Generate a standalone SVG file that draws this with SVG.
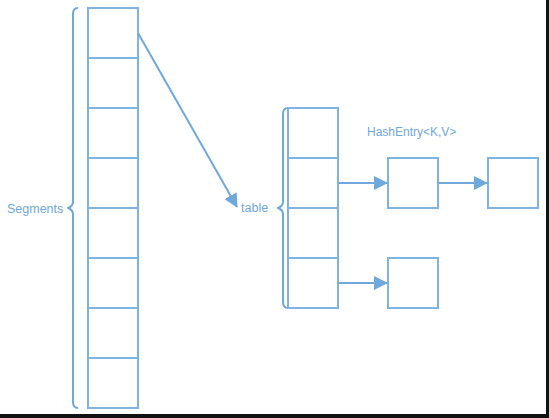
<svg xmlns="http://www.w3.org/2000/svg" width="549" height="418" viewBox="0 0 549 418">
<style>
.cell{fill:#fff;stroke:#7fb3e2;stroke-width:2}
.brace{fill:none;stroke:#6fa8dc;stroke-width:2;stroke-linejoin:round}
.conn{fill:none;stroke:#6fa8dc;stroke-width:2}
.lbl{font-family:"Liberation Sans",Arial,sans-serif;fill:#6fa8dc}
</style>
<defs>
<marker id="ah" markerWidth="8" markerHeight="8" refX="7" refY="4" orient="auto" markerUnits="userSpaceOnUse" viewBox="0 0 8 8">
<path d="M0,0 L8,4 L0,8 z" fill="#6fa8dc"/>
</marker>
<marker id="ah2" markerWidth="14" markerHeight="14" refX="13" refY="7" orient="auto" markerUnits="userSpaceOnUse" viewBox="0 0 14 14">
<path d="M0,0 L14,7 L0,14 z" fill="#6fa8dc"/>
</marker>
</defs>
<rect x="0" y="0" width="549" height="418" fill="#fff"/>
<rect x="546" y="0" width="3" height="418" fill="#111"/>
<rect x="0" y="414" width="549" height="4" fill="#111"/>

<g id="segments">
<path class="brace" d="M78,8 Q73,8 73,14 L73,202 Q73,206 68,208 Q73,210 73,214 L73,402 Q73,408 78,408"/>
<text class="lbl" x="7" y="213" font-size="12.5">Segments</text>
<rect class="cell" x="88" y="8" width="50" height="50"/>
<rect class="cell" x="88" y="58" width="50" height="50"/>
<rect class="cell" x="88" y="108" width="50" height="50"/>
<rect class="cell" x="88" y="158" width="50" height="50"/>
<rect class="cell" x="88" y="208" width="50" height="50"/>
<rect class="cell" x="88" y="258" width="50" height="50"/>
<rect class="cell" x="88" y="308" width="50" height="50"/>
<rect class="cell" x="88" y="358" width="50" height="50"/>
</g>

<g id="table">
<path class="brace" d="M288,108 Q283,108 283,114 L283,202 Q283,206 278,208 Q283,210 283,214 L283,302 Q283,308 288,308"/>
<text class="lbl" x="241" y="212" font-size="12.5">table</text>
<rect class="cell" x="288" y="108" width="50" height="50"/>
<rect class="cell" x="288" y="158" width="50" height="50"/>
<rect class="cell" x="288" y="208" width="50" height="50"/>
<rect class="cell" x="288" y="258" width="50" height="50"/>
</g>

<g id="hashentry-label">
<text class="lbl" x="367" y="136" font-size="12">HashEntry&lt;K,V&gt;</text>
</g>
<g id="entry1"><rect class="cell" x="388" y="158" width="50" height="50"/></g>
<g id="entry2"><rect class="cell" x="488" y="158" width="50" height="50"/></g>
<g id="entry3"><rect class="cell" x="388" y="258" width="50" height="50"/></g>

<g id="connectors">
<line class="conn" x1="138" y1="33" x2="237" y2="207" marker-end="url(#ah2)"/>
<line class="conn" x1="338" y1="183" x2="387" y2="183" marker-end="url(#ah2)"/>
<line class="conn" x1="438" y1="183" x2="487" y2="183" marker-end="url(#ah2)"/>
<line class="conn" x1="338" y1="283" x2="387" y2="283" marker-end="url(#ah2)"/>
</g>
</svg>
